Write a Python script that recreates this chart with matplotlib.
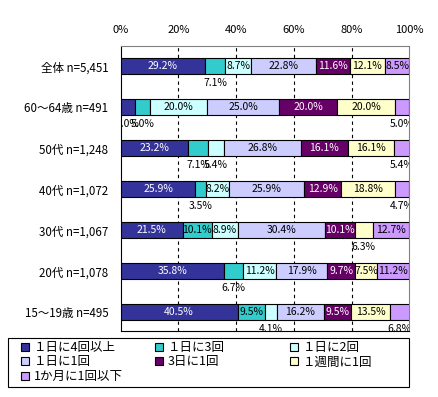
import matplotlib
matplotlib.use("Agg")
import matplotlib.pyplot as plt
from matplotlib.patches import Patch, Rectangle

plt.rcParams['font.family'] = ['Noto Sans CJK JP', 'DejaVu Sans']
plt.rcParams['font.size'] = 7.5

# Data
groups = ["全体 n=5,451", "60〜64歳 n=491", "50代 n=1,248", "40代 n=1,072",
          "30代 n=1,067", "20代 n=1,078", "15〜19歳 n=495"]
series_names = ["１日に4回以上", "１日に3回", "１日に2回", "１日に1回",
                "3日に1回", "１週間に1回", "1か月に1回以下"]
s_4plus = [29.2, 5.0, 23.2, 25.9, 21.5, 35.8, 40.5]
s_3 = [7.1, 5.0, 7.1, 3.5, 10.1, 6.7, 9.5]
s_2 = [8.7, 20.0, 5.4, 8.2, 8.9, 11.2, 4.1]
s_1 = [22.8, 25.0, 26.8, 25.9, 30.4, 17.9, 16.2]
s_3days = [11.6, 20.0, 16.1, 12.9, 10.1, 9.7, 9.5]
s_week = [12.1, 20.0, 16.1, 18.8, 6.3, 7.5, 13.5]
s_month = [8.5, 5.0, 5.4, 4.7, 12.7, 11.2, 6.8]

series = [s_4plus, s_3, s_2, s_1, s_3days, s_week, s_month]
colors = ["#333399", "#33CCCC", "#CCFFFF", "#CCCCFF", "#660066", "#FFFFCC", "#CC99FF"]
text_colors = ["white", "black", "black", "black", "white", "black", "black"]

fig = plt.figure(figsize=(4.38, 3.97), dpi=100)
ax = fig.add_axes([0.2756, 0.1662, 0.659, 0.7187])

ypos = list(range(len(groups)))
left = [0.0] * len(groups)
for vals, col, tcol in zip(series, colors, text_colors):
    ax.barh(ypos, vals, left=left, height=0.39, color=col,
            edgecolor="black", linewidth=0.8, zorder=3)
    for i, v in enumerate(vals):
        cx = left[i] + v / 2
        if v >= 7.2:
            ax.text(cx, i, f"{v:.1f}%", ha="center", va="center",
                    color=tcol, zorder=4)
        else:
            ax.text(cx, i + 0.41, f"{v:.1f}%", ha="center", va="center",
                    color="black", zorder=4, clip_on=True)
    left = [l + v for l, v in zip(left, vals)]

ax.set_xlim(0, 100)
ax.set_ylim(6.46, -0.5)
ax.set_yticks(ypos)
ax.set_yticklabels(groups, fontsize=8.3)
ax.set_xticks([0, 20, 40, 60, 80, 100])
ax.set_xticklabels(["0%", "20%", "40%", "60%", "80%", "100%"], fontsize=8)
ax.xaxis.tick_top()
ax.tick_params(axis="x", length=0, pad=8)
ax.tick_params(axis="y", length=0, pad=9)

for x in [20, 40, 60, 80]:
    ax.axvline(x, color="black", linestyle=(0, (3, 3)), linewidth=0.8, zorder=1)

for side in ["top", "right"]:
    ax.spines[side].set_color("#808080")
for side in ["left", "bottom"]:
    ax.spines[side].set_color("black")

# legend: Excel-style grid of 3 equal columns inside one box
W, H = 438, 397
fig.add_artist(Rectangle((8 / W, 1 - 387 / H), 401 / W, 49 / H,
                         transform=fig.transFigure, fill=False,
                         edgecolor="black", linewidth=0.8))
handles = [Patch(facecolor=c, edgecolor="black", linewidth=0.8) for c in colors]
columns = [[0, 3, 6], [1, 4], [2, 5]]
col_x = [21, 155, 290]
for cx, idx in zip(col_x, columns):
    fig.legend([handles[i] for i in idx], [series_names[i] for i in idx],
               loc="upper left", bbox_to_anchor=(cx / W, 1 - 341 / H),
               frameon=False, fontsize=9, handlelength=0.6, handleheight=0.6,
               handletextpad=0.4, labelspacing=0.12, borderpad=0,
               borderaxespad=0)

fig.savefig("out.png", dpi=100)
